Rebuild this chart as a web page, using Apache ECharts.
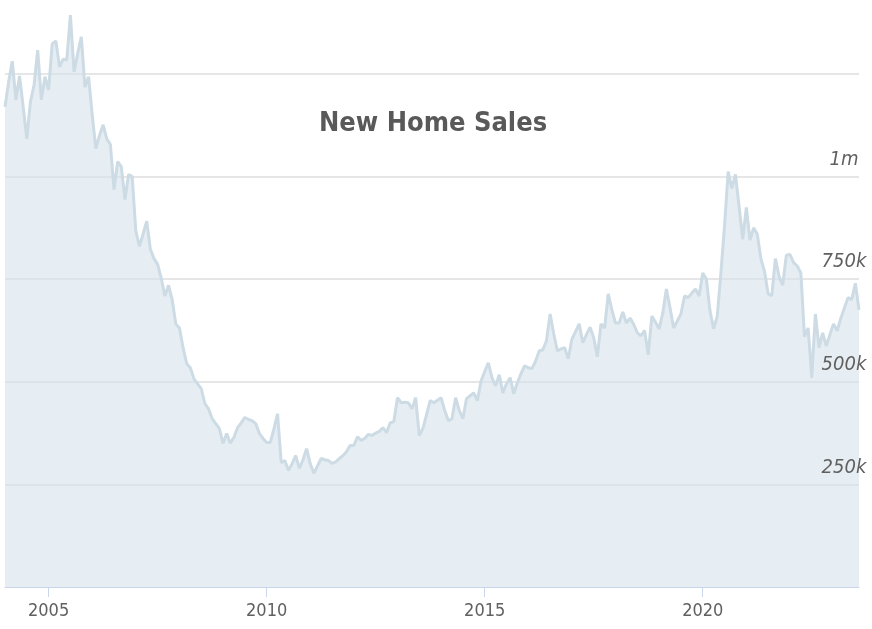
<!DOCTYPE html>
<html>
<head>
<meta charset="utf-8">
<title>New Home Sales</title>
<script src="https://cdn.jsdelivr.net/npm/echarts@6/dist/echarts.min.js"></script>
<style>
    html, body { margin: 0; padding: 0; background: #fff; }
    #sales_chart { width: 872px; height: 629px; }
</style>
</head>
<body>
<div id="sales_chart"></div>
<script>
'use strict';

// Monthly new home sales, seasonally adjusted annual rate (thousands), Jan 2004 - Aug 2023
const firstYear = 2004;
const sales2004_2007 = [
    1170, 1230, 1281, 1187, 1245, 1170, 1092, 1182, 1223, 1308, 1187, 1243,
    1211, 1323, 1330, 1267, 1286, 1284, 1393, 1255, 1300, 1340, 1218, 1243,
    1150, 1068, 1100, 1126, 1092, 1078, 968, 1036, 1024, 944, 1005, 1000,
    867, 830, 860, 891, 823, 800, 786, 752, 709, 735, 700, 641
];
const sales2008_2011 = [
    631, 583, 544, 534, 507, 495, 483, 447, 434, 410, 398, 386,
    350, 374, 350, 365, 388, 400, 413, 408, 405, 398, 374, 362,
    352, 352, 385, 422, 303, 308, 284, 300, 320, 289, 310, 337,
    300, 277, 295, 313, 310, 308, 301, 305, 313, 320, 330, 345
];
const sales2012_2015 = [
    345, 366, 357, 362, 372, 369, 375, 379, 388, 376, 400, 403,
    461, 449, 450, 449, 434, 461, 369, 386, 420, 454, 449, 455,
    461, 430, 405, 410, 461, 430, 410, 459, 466, 473, 454, 502,
    525, 546, 510, 490, 517, 473, 495, 510, 471, 498, 520, 539
];
const sales2016_2019 = [
    534, 532, 550, 575, 578, 600, 665, 617, 575, 580, 583, 556,
    604, 622, 641, 595, 615, 633, 607, 561, 641, 631, 714, 675,
    643, 643, 670, 643, 655, 640, 619, 612, 625, 566, 660, 645,
    629, 667, 726, 680, 631, 648, 665, 709, 705, 716, 726, 709
];
const sales2020_2023 = [
    765, 750, 672, 629, 660, 765, 880, 1012, 971, 1005, 927, 847,
    925, 845, 875, 860, 800, 769, 714, 710, 800, 757, 735, 808,
    810, 790, 782, 765, 610, 631, 510, 665, 583, 619, 587, 615,
    641, 624, 655, 680, 705, 700, 740, 675
];
const yTickLabels = { 250000: '250k', 500000: '500k', 750000: '750k', 1000000: '1m' };
const yearLabels = [2005, 2010, 2015, 2020];

const sales = [].concat(sales2004_2007, sales2008_2011, sales2012_2015, sales2016_2019, sales2020_2023)
    .map(v => v * 1000);

const months = sales.map((v, i) => {
    const year = firstYear + Math.floor(i / 12);
    const month = (i % 12) + 1;
    return year + '-' + (month < 10 ? '0' + month : month);
});

const isYearTick = (index, value) => {
    const parts = value.split('-');
    return parts[1] === '01' && yearLabels.indexOf(+parts[0]) !== -1;
};

const fontStack = "'DejaVu Sans Condensed', 'DejaVu Sans', sans-serif";

const salesChart = function() {
    const el = document.getElementById('sales_chart');
    if (!el || typeof echarts == 'undefined') return;

    const chart = echarts.init(el, null, { renderer: 'canvas' });

    // same scale for both y axes: one draws grid lines under the area, the other the labels on top
    const yScale = { type: 'value', position: 'right', min: 0, max: 1430000, interval: 250000 };

    chart.setOption({
        animation: false,
        backgroundColor: '#ffffff',
        title: {
            text: 'New Home Sales',
            left: 314,
            top: 105,
            textStyle: {
                fontFamily: fontStack,
                fontSize: 27,
                fontWeight: 'bold',
                color: '#595959'
            }
        },
        grid: {
            left: 5,
            right: 13,
            top: -2,
            bottom: 42
        },
        xAxis: {
            type: 'category',
            data: months,
            boundaryGap: false,
            axisLine: { lineStyle: { color: '#ccd6eb', width: 1 } },
            axisTick: {
                show: true,
                interval: isYearTick,
                length: 10,
                lineStyle: { color: '#ccd6eb', width: 1 }
            },
            axisLabel: {
                interval: isYearTick,
                margin: 15,
                formatter: value => value.split('-')[0],
                fontFamily: fontStack,
                fontSize: 18,
                color: '#606060'
            },
            splitLine: { show: false }
        },
        yAxis: [
            Object.assign({}, yScale, {
                z: 0,
                axisLine: { show: false },
                axisTick: { show: false },
                axisLabel: { show: false },
                splitLine: {
                    show: true,
                    showMinLine: false,
                    showMaxLine: false,
                    lineStyle: { color: '#e6e6e6', width: 2 }
                }
            }),
            Object.assign({}, yScale, {
                z: 10,
                axisLine: { show: false },
                axisTick: { show: false },
                splitLine: { show: false },
                axisLabel: {
                    margin: -15,
                    align: 'center',
                    verticalAlign: 'bottom',
                    padding: [0, 0, 7, 0],
                    formatter: value => yTickLabels[value] || '',
                    fontFamily: fontStack,
                    fontStyle: 'italic',
                    fontSize: 20,
                    color: '#606060'
                }
            })
        ],
        series: [
            {
                name: 'New Home Sales',
                type: 'line',
                yAxisIndex: 0,
                data: sales,
                symbol: 'none',
                smooth: false,
                lineStyle: { color: '#cddbe5', width: 3 },
                areaStyle: { color: 'rgba(214, 227, 236, 0.88)' },
                z: 2
            }
        ]
    });
};

document.addEventListener('DOMContentLoaded', function() {
    salesChart();
});
</script>
</body>
</html>
